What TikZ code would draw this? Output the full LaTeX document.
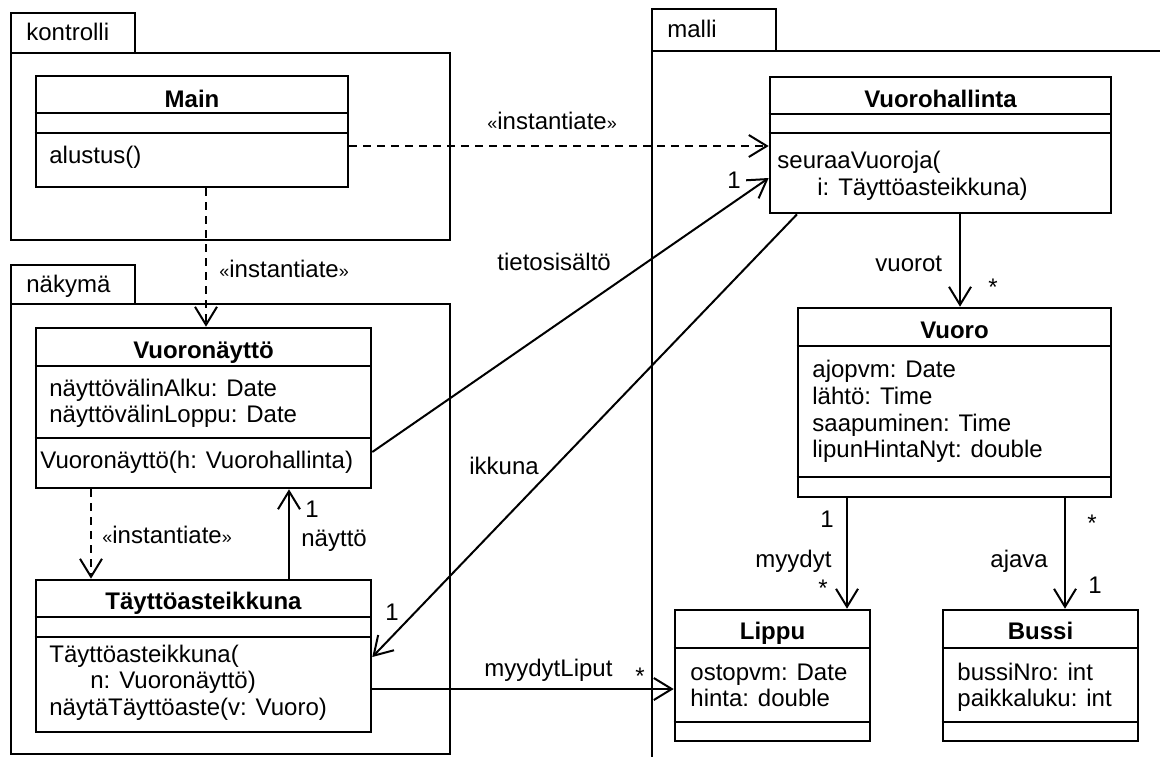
\documentclass[tikz,border=0pt]{standalone}
\usepackage{fontspec}
\setmainfont{Liberation Sans}
\usetikzlibrary{arrows.meta,fit}

\newcommand{\stereo}[1]{{\fontsize{9}{9}\selectfont«}#1{\fontsize{9}{9}\selectfont»}}

\tikzset{
	cls/.style={draw, line width=1.3pt, inner sep=0pt},
	pkg/.style={draw, line width=1.2pt},
	sep/.style={line width=1.2pt},
	txt/.style={inner sep=0pt, anchor=base west, font=\fontsize{12}{13.5}\selectfont},
	ttl/.style={inner sep=0pt, anchor=base, font=\fontsize{12}{13.5}\selectfont\bfseries},
	assoc/.style={line width=1pt, -{Straight Barb[length=9pt,width=11pt,line width=1pt]}},
	dep/.style={assoc, dash pattern=on 4pt off 3pt},
}

\begin{document}
\begin{tikzpicture}[x=0.5pt, y=-0.5pt]
		\useasboundingbox (0,0) rectangle (1160,756);
		%%%%% PACKAGES %%%%%
		\draw[pkg] (11,13) rectangle (135,53);
		\draw[pkg] (11,53) rectangle (450,240);
		\node[txt] (kontrolli) at (26,40) {kontrolli};
		
		\draw[pkg] (11,265) rectangle (135,304);
		\draw[pkg] (11,304) rectangle (450,754);
		\node[txt] (nakyma) at (26,292) {näkymä};
		
		\draw[pkg] (652,9) rectangle (776,51);
		\draw[pkg] (652,800) -- (652,51) -- (1200,51);
		\node[txt] (malli) at (667,37) {malli};
		
		%%%%% CLASSES %%%%%
		\node[cls, fit={(36,76)(348,187)}] (main) {};
		\draw[sep] (main.west |- 0,113) -- (main.east |- 0,113);
		\draw[sep] (main.west |- 0,133) -- (main.east |- 0,133);
		\node[ttl] (mainT) at (192,107) {Main};
		\node[txt] (mainM) at (49,163) {alustus()};
		
		\node[cls, fit={(770,77)(1111,213)}] (vh) {};
		\draw[sep] (vh.west |- 0,114) -- (vh.east |- 0,114);
		\draw[sep] (vh.west |- 0,133) -- (vh.east |- 0,133);
		\node[ttl] (vhT) at (940.5,107) {Vuorohallinta};
		\node[txt] (vhM1) at (777,168) {seuraaVuoroja(};
		\node[txt] (vhM2) at (817,195) {i: Täyttöasteikkuna)};
		
		\node[cls, fit={(36,328)(371,488)}] (vn) {};
		\draw[sep] (vn.west |- 0,366) -- (vn.east |- 0,366);
		\draw[sep] (vn.west |- 0,438) -- (vn.east |- 0,438);
		\node[ttl] (vnT) at (203.5,358) {Vuoronäyttö};
		\node[txt] (vnA1) at (49,396) {näyttövälinAlku: Date};
		\node[txt] (vnA2) at (49,422) {näyttövälinLoppu: Date};
		\node[txt] (vnM) at (40,468) {Vuoronäyttö(h: Vuorohallinta)};
		
		\node[cls, fit={(36,580)(371,732)}] (ta) {};
		\draw[sep] (ta.west |- 0,617) -- (ta.east |- 0,617);
		\draw[sep] (ta.west |- 0,637) -- (ta.east |- 0,637);
		\node[ttl] (taT) at (203.5,609) {Täyttöasteikkuna};
		\node[txt] (taM1) at (49,662) {Täyttöasteikkuna(};
		\node[txt] (taM2) at (90,688) {n: Vuoronäyttö)};
		\node[txt] (taM3) at (49,715) {näytäTäyttöaste(v: Vuoro)};
		
		\node[cls, fit={(798,308)(1111,497)}] (vuoro) {};
		\draw[sep] (vuoro.west |- 0,346) -- (vuoro.east |- 0,346);
		\draw[sep] (vuoro.west |- 0,477) -- (vuoro.east |- 0,477);
		\node[ttl] (vuoroT) at (954.5,338) {Vuoro};
		\node[txt] (vuoroA1) at (812,377) {ajopvm: Date};
		\node[txt] (vuoroA2) at (812,404) {lähtö: Time};
		\node[txt] (vuoroA3) at (812,431) {saapuminen: Time};
		\node[txt] (vuoroA4) at (812,457) {lipunHintaNyt: double};
		
		\node[cls, fit={(675,610)(870,741)}] (lippu) {};
		\draw[sep] (lippu.west |- 0,648) -- (lippu.east |- 0,648);
		\draw[sep] (lippu.west |- 0,722) -- (lippu.east |- 0,722);
		\node[ttl] (lippuT) at (772.5,639) {Lippu};
		\node[txt] (lippuA1) at (690,680) {ostopvm: Date};
		\node[txt] (lippuA2) at (690,706) {hinta: double};
		
		\node[cls, fit={(943,610)(1138,741)}] (bussi) {};
		\draw[sep] (bussi.west |- 0,648) -- (bussi.east |- 0,648);
		\draw[sep] (bussi.west |- 0,722) -- (bussi.east |- 0,722);
		\node[ttl] (bussiT) at (1040.5,639) {Bussi};
		\node[txt] (bussiA1) at (957,680) {bussiNro: int};
		\node[txt] (bussiA2) at (957,706) {paikkaluku: int};
		
		%%%%% DEPENDENCIES %%%%%
		\draw[dep] (main.east |- 0,146) -- (vh.west |- 0,146);
		\node[txt] (inst1) at (487,129) {\stereo{instantiate}};
		\draw[dep] (206,0 |- main.south) -- (206,0 |- vn.north);
		\node[txt] (inst2) at (219,277) {\stereo{instantiate}};
		\draw[dep] (91,0 |- vn.south) -- (91,0 |- ta.north);
		\node[txt] (inst3) at (102,543) {\stereo{instantiate}};
		
		%%%%% ASSOCIATIONS %%%%%
		\draw[assoc] (289,0 |- ta.north) -- (289,0 |- vn.south);
		\node[txt] (naytto1) at (305,517) {1};
		\node[txt] (naytto) at (301,546) {näyttö};
		
		\draw[assoc] (vn.east |- 0,452) -- (vh.west |- 0,178);
		\node[txt] (tieto1) at (727,188) {1};
		\node[txt] (tieto) at (497,270) {tietosisältö};
		
		\draw[assoc] (797,0 |- vh.south) -- (ta.east |- 0,657);
		\node[txt] (ikkuna1) at (385,620) {1};
		\node[txt] (ikkuna) at (469,474) {ikkuna};
		
		\draw[assoc] (ta.east |- 0,689) -- (lippu.west |- 0,689);
		\node[txt] (liputN) at (635,684) {*};
		\node[txt] (liput) at (484,676) {myydytLiput};
		
		\draw[assoc] (960,0 |- vh.south) -- (960,0 |- vuoro.north);
		\node[txt] (vuorotN) at (988,295) {*};
		\node[txt] (vuorot) at (875,271) {vuorot};
		
		\draw[assoc] (847,0 |- vuoro.south) -- (847,0 |- lippu.north);
		\node[txt] (myydyt1) at (820,527) {1};
		\node[txt] (myydytN) at (818,596) {*};
		\node[txt] (myydyt) at (755,567) {myydyt};
		
		\draw[assoc] (1065,0 |- vuoro.south) -- (1065,0 |- bussi.north);
		\node[txt] (ajavaN) at (1087,531) {*};
		\node[txt] (ajava1) at (1088,593) {1};
		\node[txt] (ajava) at (990,567) {ajava};
		%%%%% END %%%%%
\end{tikzpicture}
\end{document}
